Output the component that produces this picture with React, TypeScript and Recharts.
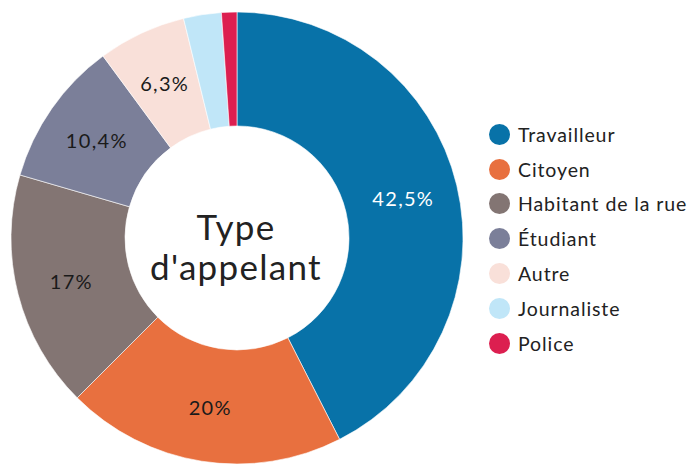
import React from "react";
import { PieChart, Pie, Cell, Legend, Label } from "recharts";

const categories = ["Travailleur", "Citoyen", "Habitant de la rue", "Étudiant", "Autre", "Journaliste", "Police"];
const values = [42.5, 20, 17, 10.4, 6.3, 2.7, 1.1];
const sliceLabels = ["42,5%", "20%", "17%", "10,4%", "6,3%", "", ""];
const colors = ["#0872a8", "#e8703f", "#837573", "#7b7f99", "#f9e0d9", "#c0e6f8", "#dc1f50"];
const labelColors = ["#ffffff", "#1a1a1a", "#1a1a1a", "#1a1a1a", "#1a1a1a", "#1a1a1a", "#1a1a1a"];

const data = categories.map((name, i) => ({ name, value: values[i], label: sliceLabels[i] }));

const FONT = "Lato, 'Open Sans', sans-serif";
const RAD = Math.PI / 180;

const renderLabel = (props: any) => {
  const { cx, cy, midAngle, innerRadius, outerRadius, index } = props;
  const text = sliceLabels[index];
  if (!text) return null;
  const r = (innerRadius + outerRadius) / 2 + 2;
  const x = cx + r * Math.cos(-midAngle * RAD);
  const y = cy + r * Math.sin(-midAngle * RAD);
  return (
    <text x={x} y={y} fill={labelColors[index]} textAnchor="middle" dominantBaseline="central"
      fontFamily={FONT} fontSize={20} fontWeight={400} letterSpacing={1.3}>
      {text}
    </text>
  );
};

const CenterLabel = (props: any) => {
  const vb = props.viewBox || {};
  const cx = vb.cx ?? 236;
  const cy = vb.cy ?? 238;
  return (
    <text x={cx} textAnchor="middle" fontFamily={FONT} fontSize={35} fontWeight={400} letterSpacing={1.3} fill="#222">
      <tspan x={cx} y={cy + 2}>Type</tspan>
      <tspan x={cx} y={cy + 42}>d'appelant</tspan>
    </text>
  );
};

const renderLegend = () => (
  <div style={{ fontFamily: FONT }}>
    {categories.map((c, i) => (
      <div key={c} style={{ display: "flex", alignItems: "center", height: 34.8 }}>
        <span style={{ width: 21, height: 21, borderRadius: "50%", background: colors[i], display: "inline-block", marginRight: 8, flexShrink: 0 }} />
        <span style={{ fontSize: 19.5, color: "#222", letterSpacing: 0.9, whiteSpace: "nowrap" }}>{c}</span>
      </div>
    ))}
  </div>
);

export default function App() {
  return (
    <div style={{ position: "absolute", left: 0, top: 0, width: 694, height: 468, background: "#fff" }}>
      <PieChart width={694} height={468} margin={{ top: 0, right: 0, bottom: 0, left: 0 }}>
        <Pie
          data={data}
          dataKey="value"
          nameKey="name"
          cx={237}
          cy={238}
          innerRadius={112}
          outerRadius={226}
          startAngle={90}
          endAngle={-270}
          stroke="#ffffff"
          strokeWidth={0.6}
          label={renderLabel}
          labelLine={false}
          isAnimationActive={false}
        >
          {data.map((d, i) => (
            <Cell key={d.name} fill={colors[i]} />
          ))}
          <Label position="center" content={<CenterLabel />} />
        </Pie>
        <Legend
          layout="vertical"
          content={renderLegend}
          wrapperStyle={{ position: "absolute", left: 489, top: 117, width: 205 }}
        />
      </PieChart>
    </div>
  );
}
